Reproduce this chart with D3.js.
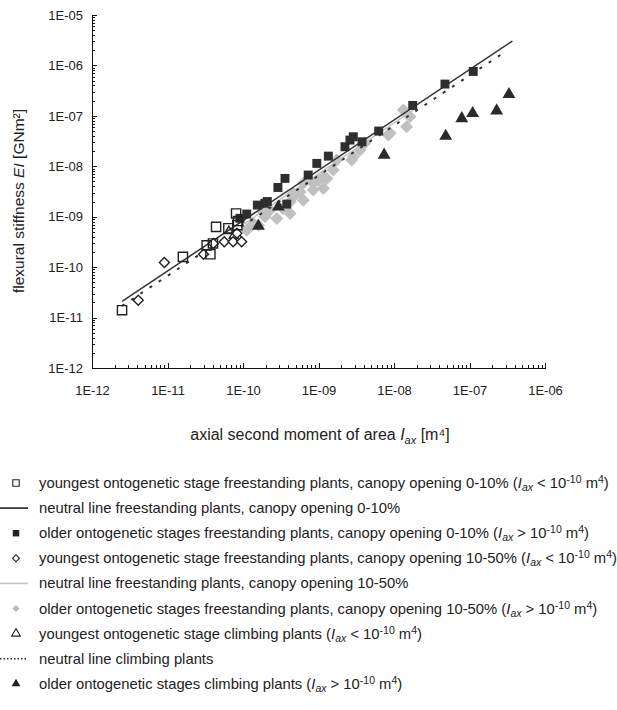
<!DOCTYPE html>
<html lang="en">
<head>
    <meta charset="UTF-8">
    <script src="https://cdn.jsdelivr.net/npm/d3@7"></script>
    <title>flexural stiffness</title>
    <style>
        body { margin: 0; background: #fff; }
        text { font-family: Arial, "Liberation Sans", sans-serif; fill: #222; }
        .axis path, .axis line { stroke: #111; shape-rendering: crispEdges; }
        .axis text { font-size: 13px; }
    </style>
</head>
<body>
    <svg width="617" height="710"></svg>
    <script>
        // youngest stage, freestanding, canopy opening 0-10%  [Iax, EI]
        var youngClosed = [
            [2.5e-12, 1.4e-11], [1.6e-11, 1.6e-10], [3.3e-11, 2.7e-10], [3.7e-11, 1.8e-10],
            [4.0e-11, 2.95e-10], [4.4e-11, 6.3e-10], [6.4e-11, 5.9e-10], [8.1e-11, 1.16e-9],
            [8.4e-11, 6.8e-10], [8.6e-11, 8.2e-10]
        ];
        // older stages, freestanding, canopy opening 0-10%
        var olderClosed = [
            [9.1e-11, 9.3e-10], [1.12e-10, 1.13e-9], [1.55e-10, 1.7e-9], [1.95e-10, 1.85e-9],
            [2.1e-10, 2.0e-9], [2.9e-10, 3.8e-9], [3.6e-10, 5.75e-9], [3.8e-10, 1.78e-9],
            [7.3e-10, 6.7e-9], [9.5e-10, 1.14e-8], [1.35e-9, 1.59e-8], [2.24e-9, 2.44e-8],
            [2.61e-9, 3.31e-8], [2.89e-9, 3.85e-8], [3.77e-9, 3.06e-8], [6.27e-9, 5.0e-8],
            [1.77e-8, 1.61e-7], [4.73e-8, 4.27e-7], [1.12e-7, 7.6e-7]
        ];
        // youngest stage, freestanding, canopy opening 10-50%
        var youngOpen = [
            [4.1e-12, 2.2e-11], [9.1e-12, 1.24e-10], [3.0e-11, 1.8e-10], [4.05e-11, 2.95e-10],
            [5.65e-11, 3.18e-10], [7.4e-11, 3.18e-10], [9.6e-11, 3.18e-10], [8.3e-11, 4.7e-10]
        ];
        // older stages, freestanding, canopy opening 10-50%
        var olderOpen = [
            [1.33e-8, 1.3e-7], [1.63e-8, 9.6e-8], [1.47e-8, 6.1e-8], [8.9e-9, 4.5e-8],
            [4.1e-9, 2.85e-8], [2.9e-9, 1.55e-8], [1.74e-9, 1.33e-8], [1.57e-9, 8.4e-9],
            [1.16e-9, 6.2e-9], [8.5e-10, 4.6e-9], [1.16e-9, 3.65e-9], [8.4e-9, 4.2e-8],
            [3.55e-9, 2.1e-8], [2.75e-9, 1.33e-8], [1.29e-9, 5.75e-9], [9.9e-10, 5.3e-9],
            [6.3e-10, 4.6e-9], [5.7e-10, 3.1e-9], [4.6e-10, 2.9e-9], [4.9e-10, 2.7e-9],
            [4.2e-10, 1.16e-9], [3.4e-10, 1.46e-9], [2.8e-10, 9.25e-10], [1.95e-10, 9.95e-10],
            [1.6e-10, 6.8e-10], [1.24e-10, 6.3e-10], [1.12e-10, 5.4e-10], [6.3e-10, 2.13e-9],
            [4.2e-10, 1.98e-9], [1.86e-10, 1.25e-9], [1.37e-10, 7.4e-10], [2.28e-10, 1.35e-9],
            [8.5e-10, 3.4e-9]
        ];
        // climbing plants
        var youngClimb = [[6.5e-11, 5.2e-10], [7.5e-11, 4.2e-10], [9.0e-11, 3.6e-10]];
        var olderClimb = [
            [1.6e-10, 6.5e-10], [2.94e-10, 1.57e-9], [7.4e-9, 1.67e-8], [4.84e-8, 3.97e-8],
            [7.9e-8, 8.9e-8], [1.1e-7, 1.12e-7], [2.29e-7, 1.26e-7], [3.33e-7, 2.67e-7]
        ];
        // neutral lines
        var lineClosed = [[2.5e-12, 2.1e-11], [3.7e-7, 3.05e-6]];
        var lineOpen = [[1.0e-10, 7.0e-10], [2.0e-8, 1.45e-7]];
        var lineClimb = [[2.5e-12, 1.7e-11], [2.8e-7, 1.76e-6]];

        var xDecades = [-12, -11, -10, -9, -8, -7, -6];
        var yDecades = [-12, -11, -10, -9, -8, -7, -6, -5];

        var svg = d3.select("svg");

        var x = d3.scaleLog().domain([1e-12, 1e-6]).range([92, 545]);
        var y = d3.scaleLog().domain([1e-12, 1e-5]).range([368, 15]);

        function minorTicks(decades) {
            var t = [];
            decades.forEach(function(e, i) {
                if (i == decades.length - 1) { t.push(+("1e" + e)); return; }
                for (var m = 1; m <= 9; m++) t.push(+(m + "e" + e));
            });
            return t;
        }
        function fmt(d) {
            var e = Math.round(Math.log10(d));
            if (Math.abs(d / Math.pow(10, e) - 1) > 1e-6) return "";
            var a = Math.abs(e);
            return "1E" + (e < 0 ? "-" : "+") + (a < 10 ? "0" + a : a);
        }

        var xAxis = svg.append("g")
            .attr("class", "axis")
            .attr("transform", "translate(0,368)")
            .call(d3.axisBottom(x).tickValues(minorTicks(xDecades)).tickSize(-3)
                .tickSizeOuter(0).tickPadding(18).tickFormat(fmt));
        xAxis.selectAll(".tick").filter(function(d) { return fmt(d) != ""; })
            .select("line").attr("y2", -5);

        var yAxis = svg.append("g")
            .attr("class", "axis")
            .attr("transform", "translate(92,0)")
            .call(d3.axisLeft(y).tickValues(minorTicks(yDecades)).tickSize(-3)
                .tickSizeOuter(0).tickPadding(9).tickFormat(fmt));
        yAxis.selectAll(".tick").filter(function(d) { return fmt(d) != ""; })
            .select("line").attr("x2", 5);

        // axis titles
        var xt = svg.append("text")
            .attr("x", 320).attr("y", 440)
            .attr("text-anchor", "middle")
            .style("font-size", "16px");
        xt.append("tspan").text("axial second moment of area ");
        xt.append("tspan").style("font-style", "italic").text("I");
        xt.append("tspan").style("font-style", "italic").style("font-size", "11px").attr("dy", 4).text("ax");
        xt.append("tspan").attr("dy", -4).text(" [m\u2074]");

        var yt = svg.append("text")
            .attr("transform", "translate(24,201) rotate(-90)")
            .attr("text-anchor", "middle")
            .style("font-size", "15.5px");
        yt.append("tspan").text("flexural stiffness ");
        yt.append("tspan").style("font-style", "italic").text("EI");
        yt.append("tspan").text(" [GNm\u00b2]");

        var line = d3.line()
            .x(function(d) { return x(d[0]); })
            .y(function(d) { return y(d[1]); });

        function sym(type, size) {
            return d3.symbol().type(type).size(size);
        }

        var plot = svg.append("g");

        function drawPoints(data, shape, size, fill, stroke, rot) {
            plot.append("g").selectAll("path")
                .data(data)
                .enter().append("path")
                .attr("d", sym(shape, size))
                .attr("transform", function(d) {
                    return "translate(" + x(d[0]) + "," + y(d[1]) + ")" + (rot ? " rotate(45)" : "");
                })
                .attr("fill", fill)
                .attr("stroke", stroke)
                .attr("stroke-width", 1.4);
        }

        drawPoints(olderOpen, d3.symbolSquare, 85, "#c0c0c0", "none", true);
        plot.append("path").datum(lineOpen).attr("d", line)
            .attr("fill", "none").attr("stroke", "#c4c4c4").attr("stroke-width", 1.5);
        plot.append("path").datum(lineClosed).attr("d", line)
            .attr("fill", "none").attr("stroke", "#333").attr("stroke-width", 1.5);
        plot.append("path").datum(lineClimb).attr("d", line)
            .attr("fill", "none").attr("stroke", "#333").attr("stroke-width", 2)
            .attr("stroke-dasharray", "3,8");
        drawPoints(olderClimb, d3.symbolTriangle, 72, "#2a2a2a", "none", false);
        drawPoints(olderClosed, d3.symbolSquare, 80, "#2e2e2e", "none", false);
        drawPoints(youngClimb, d3.symbolTriangle, 32, "none", "#222", false);
        drawPoints(youngOpen, d3.symbolSquare, 50, "#fff", "#222", true);
        drawPoints(youngClosed, d3.symbolSquare, 85, "none", "#222", false);

        // legend
        var legendRows = [
            { kind: "openSquare", text: ["youngest ontogenetic stage freestanding plants, canopy opening 0-10% (", "lt"] },
            { kind: "solidLine", text: ["neutral line freestanding plants, canopy opening 0-10%"] },
            { kind: "filledSquare", text: ["older ontogenetic stages freestanding plants, canopy opening 0-10% (", "gt"] },
            { kind: "openDiamond", text: ["youngest ontogenetic stage freestanding plants, canopy opening 10-50% (", "lt"] },
            { kind: "grayLine", text: ["neutral line freestanding plants, canopy opening 10-50%"] },
            { kind: "grayDiamond", text: ["older ontogenetic stages freestanding plants, canopy opening 10-50% (", "gt"] },
            { kind: "openTriangle", text: ["youngest ontogenetic stage climbing plants (", "lt"] },
            { kind: "dottedLine", text: ["neutral line climbing plants"] },
            { kind: "filledTriangle", text: ["older ontogenetic stages climbing plants (", "gt"] }
        ];

        var legend = svg.append("g");
        legendRows.forEach(function(r, i) {
            var cy = 483 + i * 25.1;
            var g = legend.append("g").attr("transform", "translate(0," + cy + ")");
            if (r.kind == "solidLine" || r.kind == "grayLine" || r.kind == "dottedLine") {
                g.append("line").attr("x1", 0).attr("x2", 28).attr("y1", 0).attr("y2", 0)
                    .attr("stroke", r.kind == "grayLine" ? "#c4c4c4" : "#222")
                    .attr("stroke-width", r.kind == "dottedLine" ? 1.5 : 1.6)
                    .attr("stroke-dasharray", r.kind == "dottedLine" ? "1.5,2" : null);
            } else {
                var shape = /Triangle/.test(r.kind) ? d3.symbolTriangle : d3.symbolSquare;
                var filled = /filled|gray/.test(r.kind);
                var size = /Triangle/.test(r.kind) ? 34 : (/Diamond/.test(r.kind) ? 24 : 42);
                g.append("path")
                    .attr("d", sym(shape, size))
                    .attr("transform", "translate(16,0)" + (/Diamond/.test(r.kind) ? " rotate(45)" : ""))
                    .attr("fill", filled ? (r.kind == "grayDiamond" ? "#b5b5b5" : "#222") : "#fff")
                    .attr("stroke", filled ? "none" : "#222")
                    .attr("stroke-width", 1.1);
            }
            var t = g.append("text").attr("x", 39).attr("y", 5).style("font-size", "14.8px");
            t.append("tspan").text(r.text[0]);
            if (r.text[1]) {
                t.append("tspan").style("font-style", "italic").text("I");
                t.append("tspan").style("font-style", "italic").style("font-size", "10.5px").attr("dy", 3).text("ax");
                t.append("tspan").attr("dy", -3).text(r.text[1] == "lt" ? " < 10" : " > 10");
                t.append("tspan").style("font-size", "10.5px").attr("dy", -5).text("-10");
                t.append("tspan").attr("dy", 5).text(" m");
                t.append("tspan").style("font-size", "10.5px").attr("dy", -5).text("4");
                t.append("tspan").attr("dy", 5).text(")");
            }
        });
    </script>
</body>
</html>
